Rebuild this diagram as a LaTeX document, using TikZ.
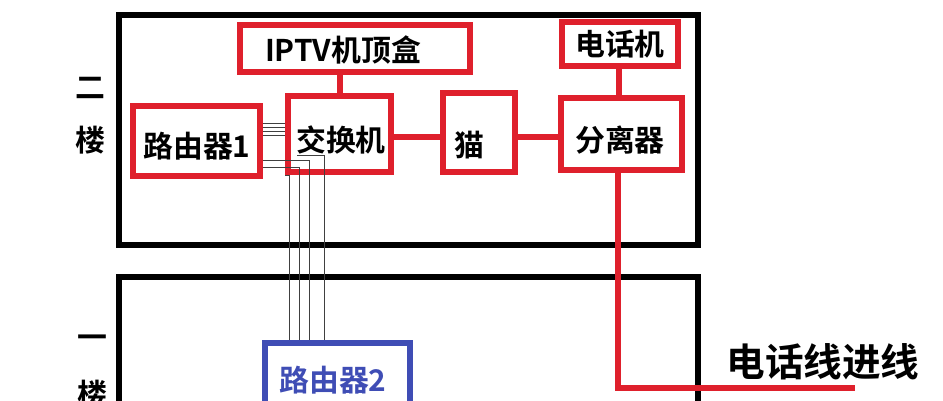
\documentclass[tikz,border=0pt]{standalone}
\usepackage{fontspec}
\newfontfamily\cjk{Noto Sans CJK SC}[BoldFont={Noto Sans CJK SC Bold}]
\definecolor{redline}{HTML}{DF202C}
\definecolor{blueline}{HTML}{3F4DB5}
\tikzset{
    floorbox/.style={draw=black, line width=0.12cm, inner sep=0},
    redbox/.style={draw=redline, line width=0.115cm, inner sep=0},
    bluebox/.style={draw=blueline, line width=0.12cm, inner sep=0},
    redwire/.style={draw=redline, line width=0.11cm},
    thinwire/.style={draw=black!75, line width=0.35pt},
    boxlabel/.style={inner sep=0, font=\cjk\bfseries\fontsize{17}{17}\selectfont}
}
\begin{document}
\begin{tikzpicture}[x=0.02cm,y=-0.02cm]
    \clip (0,0) rectangle (943,400);

    \node[floorbox, minimum width=11.58cm, minimum height=4.6cm] (up) at (408.5,130) {};
    \node[floorbox, minimum width=11.58cm, minimum height=4.6cm] (down) at (408.5,392) {};

    \node[boxlabel] (er) at (90,88) {二};
    \node[boxlabel] (lou2) at (90,140) {楼};
    \node[boxlabel] (yi) at (92,342) {一};
    \node[boxlabel] (lou1) at (92,394) {楼};

    \node[redbox, minimum width=4.6cm, minimum height=0.94cm] (iptv) at (355,48.5) {};
    \node[redbox, minimum width=2.32cm, minimum height=0.88cm] (phone) at (620,44) {};
    \node[redbox, minimum width=2.42cm, minimum height=1.44cm] (split) at (621.5,134) {};
    \node[redbox, minimum width=1.44cm, minimum height=1.58cm] (modem) at (479,132.5) {};
    \node[redbox, minimum width=2.06cm, minimum height=1.52cm] (switch) at (339.5,134) {};
    \node[redbox, minimum width=2.54cm, minimum height=1.40cm] (router1) at (196.5,141) {};
    \node[bluebox, minimum width=2.90cm, minimum height=1.48cm] (router2) at (337.5,380) {};

    \node[boxlabel] (iptvtext) at (343,50) {IPTV机顶盒};
    \node[boxlabel] (phonetext) at (620,44) {电话机};
    \node[boxlabel] (splittext) at (620,140) {分离器};
    \node[boxlabel] (modemtext) at (469,145) {猫};
    \node[boxlabel] (switchtext) at (341,140) {交换机};
    \node[boxlabel] (router1text) at (197,146) {路由器1};
    \node[boxlabel, text=blueline] (router2text) at (333,380) {路由器2};

    \coordinate (linein) at (855,388);
    \coordinate (wirestart) at (297,155);

    \draw[redwire] (iptv.south -| 340,0) -- (switch.north -| 340,0);
    \draw[redwire] (phone.south -| 619,0) -- (split.north -| 619,0);
    \draw[redwire] (switch.east |- 0,137) -- (modem.west |- 0,137);
    \draw[redwire] (modem.east |- 0,137) -- (split.west |- 0,137);
    \draw[redwire] (split.south -| 618,0) |- (linein);

    \foreach \y in {123,127,131,135}
        \draw[thinwire] (router1.east |- 0,\y) -- (switch.west |- 0,\y);

    \draw[thinwire] (switch.west |- 0,175) -| (router2.north -| 289,0);
    \draw[thinwire] (router1.east |- 0,167) -| (router2.north -| 299,0);
    \draw[thinwire] (router1.east |- 0,160) -| (router2.north -| 309,0);
    \draw[thinwire] (wirestart) -| (router2.north -| 324,0);

    \node[inner sep=0, font=\cjk\bfseries\fontsize{22}{22}\selectfont] (inlabel) at (823,362) {电话线进线};
\end{tikzpicture}
\end{document}
